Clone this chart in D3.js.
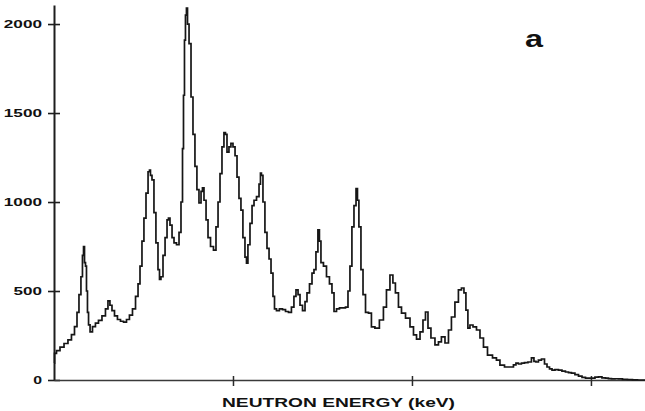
<!DOCTYPE html>
<html>
<head>
<meta charset="utf-8">
<script src="https://cdn.jsdelivr.net/npm/d3@7"></script>
<style>
  html, body { margin: 0; padding: 0; background: #fff; }
  svg { display: block; }
</style>
</head>
<body>
<svg id="chart" width="645" height="411"></svg>
<script>
// Neutron energy spectrum, panel (a)
const energy = [
  0, 0.6, 2.2, 4.5, 6.7, 8.9, 10.6, 12.3, 13.4, 14.5, 15.6, 16.2, 16.8, 17.3, 17.9, 18.4, 19.0, 19.6,
  20.7, 22.3, 24.0, 25.7, 27.9, 29.6, 30.7, 31.8, 33.0, 34.6, 36.3, 38.0, 39.7, 41.3, 43.0, 44.7,
  46.4, 47.5, 48.6, 49.7, 50.8, 52.0, 53.1, 53.6, 54.2, 55.3, 56.4, 57.5, 58.7, 59.2, 60.3, 61.5,
  62.6, 63.7, 64.2, 65.4, 66.5, 67.6, 69.3, 70.4, 71.5, 72.1, 72.6, 73.2, 73.7, 74.3, 74.9, 76.0,
  77.1, 78.2, 79.3, 80.4, 81.6, 82.7, 83.2, 84.4, 85.5, 86.6, 88.3, 89.9, 91.1, 92.2, 93.3, 94.4,
  95.5, 96.1, 97.2, 98.3, 99.4, 100.6, 101.7, 102.8, 103.9, 105.0, 106.1, 107.3, 107.8, 108.9, 110.1,
  111.2, 112.3, 114.0, 115.1, 115.6, 116.2, 117.3, 118.4, 119.6, 120.7, 121.8, 122.9, 123.5, 125.1,
  126.8, 128.5, 130.2, 131.8, 133.5, 134.6, 135.8, 136.9, 138.0, 139.7, 140.8, 141.9, 143.6, 144.7,
  145.8, 146.9, 148.0, 148.6, 149.7, 151.4, 153.1, 154.7, 155.9, 157.0, 158.7, 160.3, 162.0, 163.7,
  164.8, 165.9, 167.0, 168.2, 169.3, 169.8, 170.9, 172.1, 173.2, 174.9, 176.5, 178.2, 180.4, 183.2,
  184.9, 186.6, 188.8, 189.9, 191.6, 193.3, 195.0, 197.8, 200.0, 201.7, 203.4, 205.6, 206.7, 208.4,
  209.5, 211.7, 214.0, 215.6, 217.3, 219.6, 221.2, 222.9, 225.1, 226.8, 228.5, 229.6, 230.7, 231.8,
  233.0, 235.2, 236.9, 239.1, 240.8, 243.6, 246.4, 248.0, 250.3, 253.1, 255.9, 257.5, 258.7, 260.3,
  262.0, 263.7, 265.9, 267.6, 268.7, 269.8, 271.5, 273.2, 274.9, 276.0, 277.7, 278.8, 281.0, 282.7,
  284.9, 286.6, 288.3, 289.9, 292.2, 293.9, 296.1, 297.8, 299.4, 301.1, 303.4, 305.0, 307.3, 308.9,
  310.6, 312.3, 314.5, 316.2, 319.0, 321.8, 324.6, 327.4, 330.2
];
const counts = [
  95, 150, 165, 185, 205, 225, 255, 300, 380, 480, 580, 700, 750, 660, 640, 500, 380, 310,
  270, 300, 320, 335, 360, 400, 445, 420, 390, 360, 340, 330, 325, 340, 365, 400,
  470, 540, 640, 780, 910, 1050, 1170, 1180, 1150, 1124, 940, 770, 620, 565, 580, 700,
  800, 900, 910, 870, 800, 770, 760, 830, 1000, 1300, 1600, 1910, 2050, 2090, 2000, 1890,
  1590, 1380, 1200, 1070, 995, 1060, 1080, 1010, 900, 800, 750, 730, 860, 1000, 1160, 1310,
  1390, 1380, 1280, 1310, 1330, 1310, 1260, 1140, 1020, 955, 800, 690, 657, 760, 880,
  980, 1010, 1030, 1100, 1163, 1150, 1000, 830, 740, 680, 600, 470, 400, 390,
  400, 395, 385, 380, 410, 470, 506, 480, 420, 390, 440, 490, 540, 600,
  620, 720, 843, 780, 660, 640, 580, 540, 490, 385, 400, 405, 405, 410,
  500, 640, 860, 980, 1075, 1010, 860, 620, 480, 380, 376, 298, 292, 337,
  410, 506, 590, 545, 489, 410, 376, 348, 298, 253, 230, 270, 337, 382,
  292, 236, 197, 214, 242, 208, 281, 354, 438, 506, 517, 489, 393, 292,
  309, 298, 281, 236, 185, 140, 124, 112, 84, 73, 73, 85, 95, 90,
  95, 98, 101, 124, 105, 101, 112, 118, 90, 73, 62, 56, 58, 56,
  50, 45, 42, 39, 30, 22, 15, 11, 10, 11, 16, 17, 12, 11,
  8, 6, 7, 6, 3, 2, 1, 0, 0
];
const yTicks = [0, 500, 1000, 1500, 2000];
const xTicks = [100, 200, 300];
const xTitle = "NEUTRON ENERGY (keV)";
const panelLabel = "a";

const FONT = "'Liberation Sans', Arial, sans-serif";
const svg = d3.select("#chart");
const plotLeft = 54, plotRight = 645, plotTop = 5, plotBase = 380;

const x = d3.scaleLinear().domain([0, 330.2]).range([plotLeft, plotRight]);
const y = d3.scaleLinear().domain([0, 2107]).range([plotBase, plotTop]);

// y axis: ticks cross the axis line
const yAxis = svg.append("g")
  .attr("transform", `translate(${plotLeft},0)`)
  .call(d3.axisLeft(y).tickValues(yTicks).tickFormat(d3.format("d"))
    .tickSizeInner(6).tickSizeOuter(0).tickPadding(6));
yAxis.select(".domain").attr("stroke", "#1e1e1e").attr("stroke-width", 2);
yAxis.selectAll(".tick line").attr("x2", -6).attr("x1", 6).attr("stroke", "#1e1e1e").attr("stroke-width", 1.6);
yAxis.selectAll(".tick text")
  .attr("font-size", 10)
  .attr("font-family", FONT)
  .attr("font-weight", "bold")
  .attr("fill", "#111")
  .attr("dy", "0.36em")
  .attr("textLength", d => String(d).length * 9.8 - 1)
  .attr("lengthAdjust", "spacingAndGlyphs");

// x axis: unlabelled ticks
const xAxis = svg.append("g")
  .attr("transform", `translate(0,${plotBase})`)
  .call(d3.axisBottom(x).tickValues(xTicks).tickSizeInner(6).tickSizeOuter(0).tickFormat(""));
xAxis.select(".domain").attr("stroke", "#3a3a3a").attr("stroke-width", 1.5);
xAxis.selectAll(".tick line").attr("y1", -4).attr("y2", 6).attr("stroke", "#2a2a2a").attr("stroke-width", 1.5);

// spectrum trace, drawn as a stepped histogram
const pts = energy.map((e, i) => [e, counts[i]]);
svg.append("path")
  .datum(pts)
  .attr("fill", "none")
  .attr("stroke", "#161616")
  .attr("stroke-width", 1.7)
  .attr("stroke-linejoin", "miter")
  .attr("d", d3.line().x(d => x(d[0])).y(d => y(d[1])).curve(d3.curveStep));

// axis title
svg.append("text")
  .attr("x", 222).attr("y", 407)
  .attr("font-family", FONT)
  .attr("font-weight", "bold")
  .attr("font-size", 12.5)
  .attr("fill", "#111")
  .attr("textLength", 233)
  .attr("lengthAdjust", "spacingAndGlyphs")
  .text(xTitle);

// panel label
svg.append("text")
  .attr("x", 525).attr("y", 47)
  .attr("font-family", FONT)
  .attr("font-weight", "bold")
  .attr("font-size", 24)
  .attr("fill", "#111")
  .attr("textLength", 18)
  .attr("lengthAdjust", "spacingAndGlyphs")
  .text(panelLabel);
</script>
</body>
</html>
